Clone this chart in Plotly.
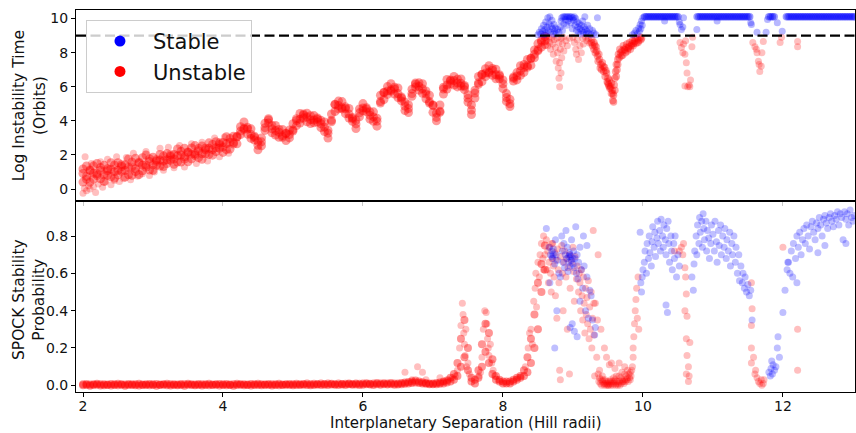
import plotly.graph_objects as go
from plotly.subplots import make_subplots

# ---------------- data ----------------
# Top panel: dense unstable band (three points read per separation)
band_sep = [2.00,2.05,2.10,2.15,2.20,2.25,2.30,2.35,2.40,2.45,2.50,2.55,2.60,2.65,2.70,2.75,2.80,2.85,2.90,2.95,
            3.00,3.05,3.10,3.15,3.20,3.25,3.30,3.35,3.40,3.45,3.50,3.55,3.60,3.65,3.70,3.75,3.80,3.85,3.90,3.95,
            4.00,4.05,4.10,4.15,4.20,4.25,4.30,4.35,4.40,4.45,4.50,4.55,4.60,4.65,4.70,4.75,4.80,4.85,4.90,4.95,
            5.00,5.05,5.10,5.15,5.20,5.25,5.30,5.35,5.40,5.45,5.50,5.55,5.60,5.65,5.70,5.75,5.80,5.85,5.90,5.95,
            6.00,6.05,6.10,6.15,6.20,6.25,6.30,6.35,6.40,6.45,6.50,6.55,6.60,6.65,6.70,6.75,6.80,6.85,6.90,6.95,
            7.00,7.05,7.10,7.15,7.20,7.25,7.30,7.35,7.40,7.45,7.50,7.55,7.60,7.65,7.70,7.75,7.80,7.85,7.90,7.95,
            8.00,8.05,8.10,8.15,8.20,8.25,8.30,8.35,8.40,8.45,8.50,8.55,8.60]
band_log_lo = [0.41,0.58,0.41,0.59,0.79,0.60,0.45,0.80,0.72,0.64,0.83,1.04,0.71,0.84,0.81,1.03,0.85,1.07,1.29,1.12,
               1.10,1.40,1.35,1.32,1.50,1.69,1.45,1.59,1.59,1.76,1.60,1.78,1.97,1.84,1.75,2.07,2.03,1.99,2.20,2.39,
               2.15,2.31,2.34,2.64,2.65,3.20,3.50,3.22,2.97,2.87,2.30,2.54,3.44,3.88,3.30,3.17,3.04,3.04,2.85,3.00,
               3.40,3.72,3.87,4.17,3.95,3.84,3.89,3.93,3.60,3.37,2.99,3.94,4.55,4.70,4.70,4.42,4.17,3.97,3.55,4.24,
               4.59,4.53,4.10,3.97,3.69,5.04,5.25,5.55,5.75,5.57,5.37,5.17,4.60,4.49,5.44,5.98,5.80,5.62,5.29,5.04,
               4.50,4.00,4.50,5.57,5.87,6.17,6.10,5.99,6.04,5.83,5.10,4.37,5.34,6.14,6.30,6.60,6.80,6.67,6.47,6.47,
               5.90,5.14,4.84,6.33,6.40,6.67,6.84,7.14,7.25,7.70,8.10,8.32,8.47]
band_log_mid = [0.91,0.74,1.07,0.92,0.90,1.09,0.84,1.08,1.16,1.02,1.10,1.32,1.09,1.28,1.31,1.19,1.52,1.40,1.40,1.61,
                1.42,1.63,1.71,1.64,1.72,1.92,1.76,1.95,2.00,1.89,2.14,2.05,2.06,2.24,2.07,2.30,2.39,2.31,2.42,2.62,
                2.46,2.67,2.75,2.73,3.05,3.40,3.57,3.52,3.20,3.03,2.57,2.77,3.60,4.05,3.53,3.43,3.33,3.13,3.25,3.20,
                3.47,4.02,4.10,4.33,4.22,4.07,4.05,4.10,3.83,3.63,3.28,4.03,4.95,4.90,4.77,4.72,4.40,4.13,3.82,4.47,
                4.75,4.70,4.33,4.23,3.98,5.13,5.65,5.75,5.82,5.87,5.60,5.33,4.87,4.72,5.60,6.15,6.03,5.88,5.58,5.13,
                4.90,4.20,4.57,5.87,6.10,6.33,6.37,6.22,6.20,6.00,5.33,4.63,5.63,6.23,6.70,6.80,6.87,6.97,6.70,6.63,
                6.17,5.37,5.00,6.50,6.63,6.93,7.13,7.23,7.65,7.90,8.17,8.62,8.70]
band_log_hi = [1.18,1.35,1.12,1.36,1.50,1.26,1.39,1.19,1.55,1.41,1.54,1.43,1.42,1.77,1.58,1.80,1.57,1.84,2.00,1.78,
               1.87,1.72,2.03,1.95,2.08,2.01,2.03,2.35,2.22,2.39,2.18,2.41,2.55,2.38,2.52,2.39,2.71,2.62,2.78,2.71,
               2.73,3.07,2.97,3.10,3.08,3.66,3.93,3.62,3.53,3.10,2.80,3.00,3.86,4.12,3.73,3.73,3.50,3.50,3.28,3.46,
               3.83,4.12,4.43,4.40,4.45,4.30,4.31,4.17,4.03,3.93,3.45,4.40,4.98,5.16,5.13,4.82,4.73,4.20,4.05,4.70,
               5.01,4.77,4.53,4.53,4.15,5.50,5.68,6.01,6.18,5.97,5.93,5.40,5.10,4.95,5.86,6.22,6.23,6.18,5.75,5.50,
               4.93,4.46,4.93,5.97,6.43,6.40,6.60,6.45,6.46,6.07,5.53,4.93,5.80,6.60,6.73,7.06,7.23,7.07,7.03,6.70,
               6.40,5.60,5.26,6.57,6.83,7.23,7.30,7.60,7.68,8.16,8.53,8.72,8.95]

# Bottom panel: SPOCK probability of the same band systems (two readings per separation)
band_prob_a = [0.000,0.002,-0.002,0.001,0.003,-0.001,0.000,0.002,-0.001,0.001,0.000,0.003,-0.002,0.001,0.002,0.000,-0.001,0.002,0.001,0.000,
               0.002,-0.002,0.001,0.003,0.000,-0.001,0.002,0.000,0.001,-0.002,0.003,0.001,0.000,0.002,-0.001,0.001,0.000,0.002,0.003,-0.001,
               0.001,0.000,0.002,-0.002,0.001,0.003,0.000,0.002,-0.001,0.001,0.002,0.000,0.003,0.001,-0.001,0.002,0.000,0.001,0.003,0.002,
               0.000,0.002,0.001,0.003,0.001,0.000,0.002,0.004,0.001,0.003,0.002,0.004,0.003,0.001,0.004,0.002,0.005,0.003,0.004,0.002,
               0.003,0.005,0.004,0.002,0.005,0.003,0.006,0.004,0.005,0.003,
               0.004,0.006,0.008,0.010,0.012,0.015,0.012,0.010,0.008,0.006,0.005,0.006,0.008,0.010,0.015,
               0.02,0.03,0.05,0.10,0.15,0.08,0.02,0.01,0.04,0.10,0.18,0.12,0.06,0.03,0.02,0.01,0.01,0.02,0.02,0.03,
               0.04,0.05,0.07,0.12,0.20,0.30,0.50,0.62]
band_prob_b = [0.005,0.007,0.004,0.006,0.008,0.005,0.006,0.004,0.007,0.005,0.008,0.006,0.004,0.007,0.005,0.006,0.008,0.004,0.006,0.007,
               0.005,0.007,0.004,0.006,0.008,0.005,0.006,0.004,0.007,0.005,0.008,0.006,0.004,0.007,0.005,0.006,0.008,0.004,0.006,0.007,
               0.005,0.007,0.004,0.006,0.008,0.005,0.006,0.004,0.007,0.005,0.008,0.006,0.004,0.007,0.005,0.006,0.008,0.004,0.006,0.007,
               0.006,0.008,0.005,0.007,0.009,0.006,0.008,0.006,0.009,0.007,0.010,0.008,0.006,0.009,0.007,0.008,0.010,0.007,0.009,0.008,
               0.009,0.011,0.008,0.010,0.012,0.009,0.011,0.010,0.012,0.010,
               0.010,0.012,0.015,0.018,0.020,0.025,0.020,0.016,0.012,0.010,0.010,0.012,0.015,0.020,0.025,
               0.04,0.06,0.12,0.25,0.35,0.20,0.04,0.03,0.08,0.22,0.33,0.28,0.14,0.05,0.03,0.02,0.02,0.01,0.03,0.04,
               0.05,0.08,0.15,0.25,0.38,0.55,0.65,0.75]

# Top panel: scattered unstable systems
top_unstable_x = [2.00,2.02,2.03,2.05,2.08,2.10,2.12,2.15,2.18,2.22,2.25,2.28,2.32,2.35,2.40,2.45,2.48,2.52,2.58,2.62,
                  2.68,2.72,2.78,2.85,2.90,2.95,3.02,3.10,3.15,3.22,3.30,3.38,3.45,3.55,3.62,3.70,3.78,3.88,3.95,4.02,4.08,
                  8.62,8.63,8.64,8.66,8.67,8.68,8.70,8.71,8.72,8.73,8.75,8.76,8.77,8.78,8.79,8.80,8.80,8.81,8.81,8.82,
                  8.83,8.83,8.84,8.85,8.86,8.87,8.90,8.92,8.95,9.00,9.02,9.04,9.05,9.06,9.08,9.10,9.12,9.14,9.15,9.18,
                  9.20,9.22,9.24,
                  10.53,10.55,10.57,10.58,10.60,10.61,10.62,10.63,10.60,10.64,10.66,10.67,10.68,10.70,10.71,
                  11.57,11.60,11.62,11.63,11.65,11.66,11.67,11.69,11.70,11.72,11.96,11.98,12.21,12.21]
top_unstable_y = [-0.25,0.05,1.90,-0.10,0.20,0.00,1.50,0.15,-0.20,0.30,1.60,0.10,0.40,1.75,0.25,0.50,1.90,0.45,0.60,1.85,
                  0.55,2.10,0.75,0.90,2.20,0.80,1.00,2.40,1.10,2.45,1.25,2.55,1.30,2.65,1.50,2.75,1.65,3.00,1.90,3.05,2.10,
                  8.70,8.95,8.40,8.85,8.60,8.20,8.90,8.50,7.90,8.75,8.30,7.50,8.85,8.00,7.10,8.60,6.50,6.00,7.40,8.20,
                  8.85,6.80,7.70,8.50,8.90,8.10,8.70,8.40,8.85,8.90,8.60,8.20,7.90,8.75,7.60,8.40,8.00,8.85,8.50,8.90,
                  8.70,8.80,8.55,
                  8.60,8.30,8.00,8.50,7.90,8.70,7.40,6.80,6.05,6.00,6.10,6.00,6.40,8.35,8.90,
                  8.60,8.35,8.20,8.00,7.50,7.30,6.90,7.20,8.00,8.65,8.60,8.90,8.65,8.35]
# Top panel: the V-shaped unstable dip near 9.5
dip_x = [9.26,9.28,9.30,9.30,9.32,9.33,9.35,9.36,9.38,9.40,9.41,9.42,9.44,9.45,9.46,9.48,9.49,9.50,9.51,9.52,
         9.53,9.54,9.55,9.56,9.57,9.58,9.59,9.60,9.61,9.62,9.63,9.64,9.65,9.66,9.68,9.70,9.71,9.73,9.75,9.76,
         9.78,9.80,9.82,9.84,9.86,9.88,9.90,9.92,9.94,9.96,9.98,
         9.27,9.31,9.34,9.37,9.39,9.43,9.47,9.50,9.52,9.55,9.57,9.58,9.60,9.62,9.64,9.67,9.69,9.72,9.74,9.77,
         9.79,9.81,9.83,9.85,9.87,9.89,9.93,9.97]
dip_y = [8.60,8.40,8.20,8.60,8.00,8.35,7.80,7.50,7.60,7.30,7.00,7.40,6.90,7.15,6.60,6.80,6.30,6.50,6.10,6.40,
         5.90,6.00,5.60,5.80,5.20,5.50,6.10,6.50,6.90,7.30,7.00,7.60,7.90,7.70,8.00,8.10,7.85,8.20,8.00,8.30,
         8.10,8.35,8.20,8.50,8.40,8.65,8.55,8.80,8.70,8.90,8.85,
         8.80,8.45,8.10,7.90,7.10,7.20,6.95,6.20,6.00,6.20,5.60,5.10,5.80,6.60,7.30,8.20,7.80,8.40,8.15,8.50,
         8.25,8.60,8.40,8.70,8.55,8.85,8.60,8.75]

# Top panel: stable systems
top_stable_x = [8.50,8.52,8.54,8.55,8.57,8.58,8.59,8.60,8.61,8.62,8.63,8.64,8.65,8.66,8.67,8.68,8.69,8.70,8.71,8.72,
                8.73,8.74,8.75,8.76,8.78,8.80,8.82,8.83,8.84,8.85,8.86,8.87,8.88,8.89,8.90,8.91,8.92,8.93,8.94,8.95,
                8.96,8.97,8.98,8.99,9.00,9.01,9.02,9.03,9.04,9.05,9.06,9.07,9.08,9.09,9.10,9.11,9.12,9.13,9.14,9.15,
                9.16,9.17,9.18,9.19,9.20,9.21,9.22,9.24,9.26,9.28,9.30,9.33,9.35,
                9.85,9.88,9.90,9.92,9.94,9.95,9.96,9.97,9.98,9.99,10.00,
                10.31,10.52,10.53,10.55,10.57,10.58,10.77,11.06,11.54,11.55,11.63,11.76,11.78,11.92,11.99]
top_stable_y = [9.05,9.20,9.10,9.40,9.25,9.60,9.05,9.35,9.80,9.15,9.50,10.05,9.30,9.70,10.10,9.20,9.55,9.90,9.40,9.10,
                9.65,9.25,9.45,9.10,9.35,9.20,9.50,9.85,10.05,9.30,10.10,9.70,10.10,9.95,10.10,9.60,10.10,9.85,10.10,10.00,
                10.10,9.75,10.10,9.40,10.05,9.90,10.10,9.60,10.00,9.30,9.80,9.50,9.20,9.70,9.40,9.10,9.60,9.30,9.85,9.20,
                9.50,10.10,9.35,9.10,9.25,9.60,9.15,9.40,9.05,9.30,9.15,9.05,10.05,
                9.05,9.15,9.30,9.10,9.45,9.25,9.65,9.40,9.85,9.60,10.05,
                9.85,9.80,9.65,9.35,9.50,10.05,9.35,9.85,9.75,9.65,9.20,9.20,9.95,9.75,9.25]
# Top panel: stable systems sitting at the integration cap
cap_x = [10.025,10.05,10.075,10.1,10.125,10.15,10.175,10.2,10.225,10.25,10.275,10.3,10.325,10.35,10.375,10.4,10.425,10.45,10.475,10.5,
         10.775,10.8,10.825,10.85,10.875,10.9,10.925,10.95,10.975,11.0,11.025,11.05,11.075,11.1,11.125,11.15,11.175,11.2,11.225,11.25,
         11.275,11.3,11.325,11.35,11.375,11.4,11.425,11.45,11.475,11.5,11.525,
         11.8,11.825,11.85,11.875,
         12.05,12.075,12.1,12.125,12.15,12.175,12.2,12.225,12.25,12.275,12.3,12.325,12.35,12.375,12.4,12.425,12.45,12.475,12.5,12.525,
         12.55,12.575,12.6,12.625,12.65,12.675,12.7,12.725,12.75,12.775,12.8,12.825,12.85,12.875,12.9,12.925,12.95,12.975,13.0,13.025]
cap_y = [10.1,10.1,10.1,10.1,10.1,10.1,10.1,10.1,10.1,10.1,10.1,10.1,10.1,10.1,10.1,10.1,10.1,10.1,10.1,10.1,
         10.1,10.1,10.1,10.1,10.1,10.1,10.1,10.1,10.1,10.1,10.1,10.1,10.1,10.1,10.1,10.1,10.1,10.1,10.1,10.1,
         10.1,10.1,10.1,10.1,10.1,10.1,10.1,10.1,10.1,10.1,10.1,
         10.1,10.1,10.1,10.1,
         10.1,10.1,10.1,10.1,10.1,10.1,10.1,10.1,10.1,10.1,10.1,10.1,10.1,10.1,10.1,10.1,10.1,10.1,10.1,10.1,
         10.1,10.1,10.1,10.1,10.1,10.1,10.1,10.1,10.1,10.1,10.1,10.1,10.1,10.1,10.1,10.1,10.1,10.1,10.1,10.1]
stability_threshold = 9.0

# Bottom panel: scattered unstable systems
bot_unstable_x = [6.60,6.70,6.78,6.85,6.90,7.10,7.15,7.22,7.28,7.32,7.35,7.38,7.40,7.42,7.43,7.44,7.45,7.46,7.47,7.48,
                  7.50,7.52,7.66,7.68,7.70,7.72,7.74,7.76,7.77,7.78,7.79,7.80,7.82,7.84,7.86,7.88,
                  8.32,8.36,8.38,8.40,8.42,8.44,8.46,8.47,8.48,8.50,8.52,8.53,8.55,8.57,8.58,
                  8.58,8.60,8.62,8.63,8.64,8.65,8.66,8.67,8.68,8.69,8.70,8.70,8.71,8.72,8.73,8.74,8.75,8.76,8.77,8.78,
                  8.79,8.80,8.81,8.82,8.82,8.84,8.85,8.86,8.87,8.88,8.90,8.91,8.92,8.93,8.95,8.95,8.96,8.98,9.00,9.01,
                  9.02,9.03,9.05,9.06,9.08,9.09,9.10,9.11,9.12,9.13,9.14,9.15,9.16,9.17,9.18,9.19,9.20,9.21,9.22,9.23,
                  9.24,9.25,9.26,9.27,9.28,9.29,9.30,9.31,9.32,9.34,9.36,
                  9.36,9.38,9.40,9.42,9.44,9.46,9.48,9.50,9.52,9.54,9.56,9.58,9.60,9.62,9.64,9.66,9.68,9.70,9.72,9.74,
                  9.76,9.78,9.80,9.82,9.84,9.38,9.42,9.46,9.50,9.54,9.58,9.62,9.66,9.70,9.74,9.78,9.82,9.60,9.55,9.66,
                  9.48,9.74,9.40,9.45,9.35,9.30,9.52,
                  9.37,9.39,9.41,9.43,9.45,9.47,9.49,9.51,9.53,9.55,9.57,9.59,9.61,9.63,9.65,9.67,9.69,9.71,9.73,9.75,
                  9.77,9.79,9.81,9.83,
                  9.85,9.86,9.87,9.88,9.89,9.90,9.91,9.92,9.93,9.94,9.86,
                  10.45,10.52,10.55,10.57,10.58,10.60,10.61,10.62,10.60,10.63,10.62,10.67,10.63,10.65,10.62,10.65,10.66,
                  11.55,11.56,11.55,11.55,11.58,11.55,11.60,11.65,11.67,11.70,11.72,11.69,11.61,11.63,11.73,
                  12.00,12.21,12.21]
bot_unstable_y = [0.07,0.03,0.10,0.07,0.03,0.04,0.02,0.03,0.04,0.05,0.08,0.20,0.32,0.44,0.38,0.28,0.22,0.16,0.30,0.10,
                  0.12,0.06,0.05,0.07,0.15,0.30,0.40,0.39,0.33,0.25,0.20,0.16,0.22,0.12,0.08,0.05,
                  0.10,0.20,0.28,0.30,0.22,0.45,0.52,0.60,0.42,0.66,0.58,0.70,0.76,0.68,0.80,
                  0.62,0.70,0.78,0.62,0.72,0.55,0.66,0.74,0.60,0.50,0.68,0.76,0.76,0.64,0.58,0.71,0.48,0.67,0.36,0.73,
                  0.62,0.55,0.08,0.03,0.69,0.75,0.60,0.40,0.66,0.72,0.58,0.68,0.30,0.63,0.70,0.06,0.52,0.66,0.74,0.61,
                  0.45,0.69,0.57,0.64,0.50,0.60,0.55,0.40,0.62,0.48,0.35,0.58,0.44,0.28,0.52,0.38,0.47,0.33,0.56,0.25,
                  0.42,0.30,0.50,0.20,0.36,0.83,0.27,0.05,0.44,0.15,0.70,
                  0.06,0.04,0.03,0.02,0.01,0.01,0.00,0.00,0.01,0.00,0.02,0.04,0.03,0.01,0.00,0.02,0.04,0.03,0.02,0.03,
                  0.05,0.04,0.06,0.03,0.08,0.08,0.05,0.03,0.02,0.03,0.01,0.05,0.05,0.07,0.06,0.08,0.07,0.09,0.12,0.12,
                  0.15,0.10,0.30,0.20,0.35,0.44,0.11,
                  0.02,0.01,0.00,0.03,0.00,0.02,0.01,0.00,0.02,0.01,0.00,0.02,0.00,0.02,0.01,0.00,0.01,0.02,0.01,0.02,
                  0.03,0.02,0.04,0.05,
                  0.10,0.20,0.26,0.33,0.40,0.46,0.52,0.36,0.58,0.30,0.15,
                  0.72,0.72,0.74,0.70,0.76,0.63,0.58,0.49,0.40,0.37,0.25,0.23,0.16,0.10,0.06,0.02,0.05,
                  0.55,0.41,0.32,0.20,0.15,0.12,0.06,0.02,0.01,0.00,0.01,0.03,0.08,0.04,0.03,
                  0.74,0.30,0.08]

# Bottom panel: stable systems
bot_stable_x = [8.62,8.66,8.67,8.68,8.70,8.71,8.72,8.74,8.74,8.75,8.76,8.77,8.78,8.80,8.82,8.84,8.85,8.86,8.87,8.88,
                8.89,8.90,8.91,8.92,8.93,8.94,8.95,8.96,8.97,8.98,8.99,9.00,9.01,9.02,9.03,9.04,9.05,9.06,9.06,9.07,
                9.08,9.10,9.10,9.12,9.14,9.16,9.18,9.20,9.22,9.24,9.26,9.28,9.31,9.32,8.96,8.98,8.94,9.00,8.72,8.70,
                8.96,9.02,9.15,9.20,
                9.96,9.97,9.98,9.99,10.00,10.02,10.03,10.05,10.06,10.08,10.09,10.10,10.12,10.13,10.14,10.16,10.17,10.18,10.20,10.21,
                10.22,10.24,10.25,10.26,10.28,10.29,10.30,10.32,10.33,10.34,10.36,10.37,10.38,10.40,10.41,10.42,10.44,10.45,10.46,10.48,
                10.50,10.52,10.33,10.35,
                10.70,10.72,10.73,10.74,10.76,10.77,10.78,10.80,10.81,10.82,10.84,10.85,10.86,10.87,10.88,10.90,10.91,10.92,10.94,10.95,
                10.97,10.98,11.00,11.02,11.03,11.05,11.06,11.08,11.09,11.11,11.12,11.14,11.16,11.17,11.19,11.20,11.22,11.24,11.25,11.27,
                11.28,11.30,11.32,11.33,11.35,11.37,11.38,11.40,11.42,11.43,11.45,11.46,11.48,11.50,11.52,11.54,11.56,
                11.80,11.82,11.83,11.85,11.86,11.84,11.88,11.90,11.92,11.93,11.95,
                12.00,12.03,12.06,12.07,12.14,12.20,
                12.08,12.10,12.12,12.15,12.18,12.20,12.22,12.24,12.26,12.28,12.30,12.32,12.34,12.36,12.38,12.40,12.42,12.44,12.46,12.48,
                12.50,12.52,12.54,12.56,12.58,12.60,12.62,12.64,12.66,12.68,12.70,12.72,12.74,12.76,12.78,12.80,12.82,12.84,12.86,12.88,
                12.90,12.92,12.94,12.96,12.98,13.00,13.02,12.60,12.50,12.90]
bot_stable_y = [0.84,0.74,0.55,0.70,0.72,0.68,0.73,0.65,0.20,0.78,0.70,0.40,0.67,0.60,0.58,0.80,0.72,0.66,0.76,0.63,
                0.70,0.83,0.68,0.74,0.61,0.66,0.71,0.64,0.69,0.78,0.33,0.65,0.72,0.63,0.68,0.85,0.60,0.26,0.70,0.57,
                0.66,0.45,0.74,0.62,0.52,0.64,0.40,0.58,0.36,0.51,0.48,0.35,0.27,0.31,0.70,0.67,0.69,0.68,0.70,0.69,
                0.31,0.29,0.80,0.75,
                0.82,0.55,0.50,0.58,0.62,0.66,0.72,0.60,0.76,0.68,0.80,0.71,0.64,0.77,0.85,0.74,0.82,0.69,0.79,0.88,
                0.76,0.83,0.72,0.89,0.80,0.74,0.86,0.78,0.70,0.84,0.88,0.76,0.66,0.80,0.72,0.62,0.76,0.68,0.80,0.58,
                0.70,0.64,0.43,0.39,
                0.58,0.51,0.65,0.72,0.80,0.70,0.86,0.76,0.90,0.82,0.88,0.74,0.92,0.84,0.78,0.88,0.72,0.83,0.79,0.68,
                0.76,0.86,0.81,0.72,0.88,0.77,0.66,0.83,0.75,0.86,0.70,0.80,0.74,0.84,0.68,0.78,0.72,0.82,0.64,0.76,
                0.70,0.80,0.66,0.74,0.60,0.70,0.56,0.64,0.55,0.60,0.52,0.58,0.50,0.54,0.48,0.51,0.35,
                0.07,0.05,0.09,0.06,0.11,0.13,0.08,0.10,0.20,0.26,0.15,
                0.39,0.51,0.62,0.66,0.58,0.55,
                0.66,0.60,0.72,0.76,0.68,0.80,0.74,0.82,0.70,0.78,0.84,0.76,0.86,0.80,0.73,0.85,0.88,0.82,0.78,0.87,
                0.84,0.90,0.86,0.80,0.89,0.91,0.87,0.84,0.90,0.92,0.88,0.85,0.91,0.89,0.93,0.86,0.92,0.90,0.78,0.93,
                0.89,0.92,0.86,0.94,0.90,0.88,0.91,0.75,0.71,0.76]

x_ticks = [2, 4, 6, 8, 10, 12]
top_y_ticks = [0, 2, 4, 6, 8, 10]
bot_y_ticks = [0.0, 0.2, 0.4, 0.6, 0.8]
bot_y_ticklabels = ["0.0", "0.2", "0.4", "0.6", "0.8"]

pairs = [(band_sep, band_log_lo), (band_sep, band_log_mid), (band_sep, band_log_hi), (band_sep, band_prob_a),
         (band_sep, band_prob_b), (top_unstable_x, top_unstable_y), (dip_x, dip_y), (top_stable_x, top_stable_y),
         (cap_x, cap_y), (bot_unstable_x, bot_unstable_y), (bot_stable_x, bot_stable_y)]
for i, (a, b) in enumerate(pairs):
    if len(a) != len(b):
        raise ValueError(f"length mismatch in pair {i}: {len(a)} vs {len(b)}")

# ---------------- figure ----------------
RED = "#ff0000"
BLUE = "#0000ff"
FONT = "DejaVu Sans"

fig = make_subplots(rows=2, cols=1, shared_xaxes=True, vertical_spacing=0)

def pts(x, y, color, opacity, row, size=7):
    fig.add_trace(go.Scatter(x=x, y=y, mode="markers", showlegend=False, hoverinfo="skip",
                             marker=dict(color=color, size=size, opacity=opacity, line=dict(width=0))),
                  row=row, col=1)

# top panel
for yy in (band_log_lo, band_log_mid, band_log_hi):
    pts(band_sep, yy, RED, 0.40, 1, size=9)
pts(top_unstable_x, top_unstable_y, RED, 0.25, 1)
pts(dip_x, dip_y, RED, 0.35, 1, size=7.5)
pts(top_stable_x, top_stable_y, BLUE, 0.28, 1)
pts(cap_x, cap_y, BLUE, 0.40, 1, size=7.5)

# bottom panel
for yy in (band_prob_a, band_prob_b):
    pts(band_sep, yy, RED, 0.42, 2, size=8)
pts(bot_unstable_x, bot_unstable_y, RED, 0.25, 2)
pts(bot_stable_x, bot_stable_y, BLUE, 0.25, 2)

# legend entries (opaque markers)
fig.add_trace(go.Scatter(x=[None], y=[None], mode="markers", name="Stable",
                         marker=dict(color=BLUE, size=11)), row=1, col=1)
fig.add_trace(go.Scatter(x=[None], y=[None], mode="markers", name="Unstable",
                         marker=dict(color=RED, size=11)), row=1, col=1)

fig.add_hline(y=stability_threshold, row=1, col=1,
              line=dict(color="black", width=2.2, dash="10px,4.5px"))

axis_common = dict(showline=True, linecolor="black", linewidth=1, mirror=True,
                   showgrid=False, zeroline=False, ticks="outside", ticklen=4, tickwidth=1,
                   tickcolor="black", tickfont=dict(family=FONT, size=14, color="#111"))

fig.update_xaxes(**axis_common)
fig.update_yaxes(**axis_common)
fig.update_xaxes(range=[1.9, 13.03], tickvals=x_ticks, row=1, col=1,
                 showticklabels=False, tickcolor="#c8c8c8")
fig.update_xaxes(range=[1.9, 13.03], tickvals=x_ticks, row=2, col=1, ticklabelstandoff=-3)
fig.update_yaxes(range=[-0.7, 10.5], tickvals=top_y_ticks, row=1, col=1)
fig.update_yaxes(range=[-0.036, 0.988], tickvals=bot_y_ticks, ticktext=bot_y_ticklabels, row=2, col=1)
fig.update_xaxes(automargin=False)
fig.update_yaxes(automargin=False)

title_font = dict(family=FONT, size=15.5, color="#111")
fig.add_annotation(text="Log Instability Time<br>(Orbits)", textangle=-90, xref="paper", yref="paper",
                   x=-0.0605, y=0.75, xanchor="center", yanchor="middle", showarrow=False, font=title_font)
fig.add_annotation(text="SPOCK Stability<br>Probability", textangle=-90, xref="paper", yref="paper",
                   x=-0.0605, y=0.243, xanchor="center", yanchor="middle", showarrow=False, font=title_font)
fig.add_annotation(text="Interplanetary Separation (Hill radii)", xref="paper", yref="paper",
                   x=0.5, y=-0.081, xanchor="center", yanchor="middle", showarrow=False,
                   font=dict(family=FONT, size=15, color="#111"))

fig.update_layout(
    width=856, height=433,
    margin=dict(l=76, r=1, t=10, b=41),
    paper_bgcolor="white", plot_bgcolor="white",
    font=dict(family=FONT, color="#111"),
    legend=dict(x=0.0128, y=0.974, xanchor="left", yanchor="top",
                bgcolor="rgba(255,255,255,0.8)", bordercolor="#cccccc", borderwidth=1,
                font=dict(family=FONT, size=21, color="#111"), itemwidth=56),
)

fig.write_html("out.html")
